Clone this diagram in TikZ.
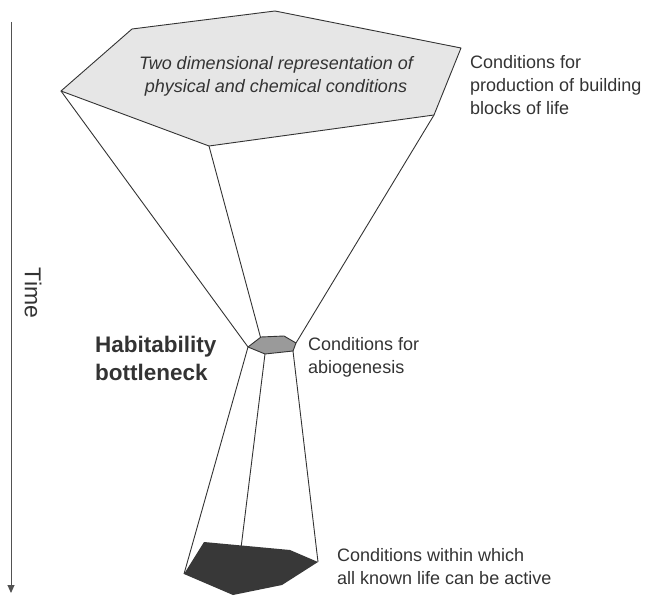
\documentclass[tikz,border=0pt]{standalone}
\usepackage{fontspec}
\setmainfont{Liberation Sans}
\usetikzlibrary{arrows.meta}
\definecolor{ink}{HTML}{333333}
\definecolor{lightfill}{HTML}{E6E6E6}
\definecolor{midfill}{HTML}{9A9A9A}
\definecolor{darkfill}{HTML}{383838}
\begin{document}
\begin{tikzpicture}[x=1bp,y=-1bp,
  edge/.style={draw=ink,line width=0.9bp,line join=round},
  lbl/.style={text=ink,inner sep=0pt,font=\fontsize{18bp}{23bp}\selectfont,align=left,anchor=north west},
  bold lbl/.style={text=ink,inner sep=0pt,font=\fontsize{22.5bp}{28bp}\selectfont\bfseries,align=left,anchor=north west}]
\useasboundingbox (0,0) rectangle (645,597);
% top hexagon vertices
\coordinate (t1) at (61,91);
\coordinate (t2) at (132,29);
\coordinate (t3) at (275,11);
\coordinate (t4) at (461,48);
\coordinate (t5) at (434,115);
\coordinate (t6) at (209,146);
% small hexagon
\coordinate (m1) at (248,347);
\coordinate (m2) at (261,337);
\coordinate (m3) at (284,336);
\coordinate (m4) at (296,343);
\coordinate (m5) at (293,351);
\coordinate (m6) at (265,354);
% dark polygon
\coordinate (b1) at (184,574);
\coordinate (b2) at (204,542);
\coordinate (b3) at (290,550);
\coordinate (b4) at (318,562);
\coordinate (b5) at (282,585);
\coordinate (b6) at (233,595);
\coordinate (bm) at (241,548);
% connectors
\draw[edge] (t1) -- (m1);
\draw[edge] (t6) -- (m6);
\draw[edge] (t5) -- (m4);
\draw[edge] (m1) -- (b1);
\draw[edge] (m6) -- (bm);
\draw[edge] (m5) -- (b4);
% polygons
\filldraw[edge,fill=lightfill] (t1) -- (t2) -- (t3) -- (t4) -- (t5) -- (t6) -- cycle;
\filldraw[edge,fill=midfill] (m1) -- (m2) -- (m3) -- (m4) -- (m5) -- (m6) -- cycle;
\fill[darkfill] (b1) -- (b2) -- (b3) -- (b4) -- (b5) -- (b6) -- cycle;
% texts
\node[lbl,anchor=north,align=center,font=\fontsize{18bp}{23bp}\selectfont\itshape] (rep) at (276,56) {Two dimensional representation of\\physical and chemical conditions};
\node[lbl] (build) at (470,55) {Conditions for\\production of building\\blocks of life};
\node[bold lbl] (hab) at (95,336) {Habitability\\bottleneck};
\node[lbl] (abio) at (308,337) {Conditions for\\abiogenesis};
\node[lbl] (known) at (337,548) {Conditions within which\\all known life can be active};
% time axis
\coordinate (ta) at (11,22);
\coordinate (tb) at (11,593);
\draw[draw=ink!85,line width=1bp,-{Triangle[length=8bp,width=7bp]}] (ta) -- (tb);
\node[text=ink,inner sep=0pt,rotate=-90,font=\fontsize{23bp}{28bp}\selectfont] (time) at (33,293) {Time};
\end{tikzpicture}
\end{document}
